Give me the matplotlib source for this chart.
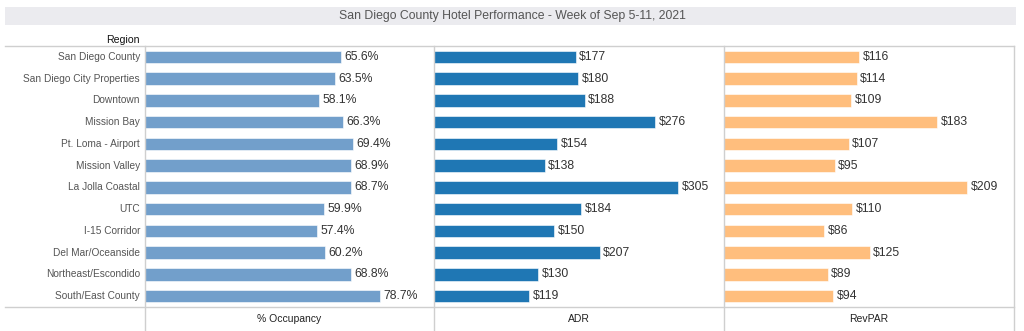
import matplotlib

matplotlib.use("Agg")
import matplotlib.pyplot as plt
from matplotlib.lines import Line2D
from matplotlib.patches import Rectangle

plt.rcParams["font.family"] = ["Liberation Sans", "DejaVu Sans"]

# Weekly hotel metrics by region
regions = ["San Diego County", "San Diego City Properties", "Downtown", "Mission Bay",
           "Pt. Loma - Airport", "Mission Valley", "La Jolla Coastal", "UTC",
           "I-15 Corridor", "Del Mar/Oceanside", "Northeast/Escondido", "South/East County"]
occupancy = [65.6, 63.5, 58.1, 66.3, 69.4, 68.9, 68.7, 59.9, 57.4, 60.2, 68.8, 78.7]
adr = [177, 180, 188, 276, 154, 138, 305, 184, 150, 207, 130, 119]
revpar = [116, 114, 109, 183, 107, 95, 209, 110, 86, 125, 89, 94]

W, H = 1024, 331
fig = plt.figure(figsize=(W / 100, H / 100), dpi=100)


def fx(px):
    return px / W


def fy(py):
    return 1 - py / H


grid = "#cfcfcf"

# title band
fig.patches.append(Rectangle((fx(5), fy(25)), fx(1011), 18 / H, transform=fig.transFigure,
                             facecolor="#ebebef", edgecolor="none"))
fig.text(0.5, fy(16), "San Diego County Hotel Performance - Week of Sep 5-11, 2021",
         ha="center", va="center", fontsize=8.85, color="#555555")

fig.text(fx(140), fy(40), "Region", ha="right", va="center", fontsize=7.6, color="#111111")

top, bottom = 46, 307
panels = [
    (occupancy, "#729fcb", 96.6, "% Occupancy", lambda v: f"{v:.1f}%"),
    (adr, "#1f77b4", 362, "ADR", lambda v: f"${v:.0f}"),
    (revpar, "#ffbe7d", 249, "RevPAR", lambda v: f"${v:.0f}"),
]
edges = [145, 434, 724, 1014]

for i, (vals, color, xmax, label, fmt) in enumerate(panels):
    ax = fig.add_axes([fx(edges[i]), fy(bottom), fx(edges[i + 1] - edges[i]), (bottom - top) / H])
    ax.barh(range(len(regions)), vals, height=0.57, color=color, edgecolor="white", linewidth=0.4)
    ax.set_xlim(0, xmax)
    ax.set_ylim(len(regions) - 0.5, -0.5)
    ax.axis("off")
    for j, v in enumerate(vals):
        ax.annotate(fmt(v), (v, j), xytext=(2.5, 0), textcoords="offset points",
                    ha="left", va="center", fontsize=8.8, color="#333333")
    fig.text(fx((edges[i] + edges[i + 1]) / 2), fy(319), label, ha="center", va="center",
             fontsize=7.5, color="#222222")
    if i == 0:
        for j, r in enumerate(regions):
            ax.text(-5 / 289 * xmax, j, r, ha="right", va="center", fontsize=7.3, color="#555555")

# frame lines
for y in (top, bottom):
    fig.lines.append(Line2D([fx(5), fx(1014)], [fy(y), fy(y)], transform=fig.transFigure,
                            color=grid, linewidth=1))
for x in edges:
    fig.lines.append(Line2D([fx(x), fx(x)], [fy(top), 0], transform=fig.transFigure,
                            color=grid, linewidth=1))

fig.savefig("out.png", dpi=100)
